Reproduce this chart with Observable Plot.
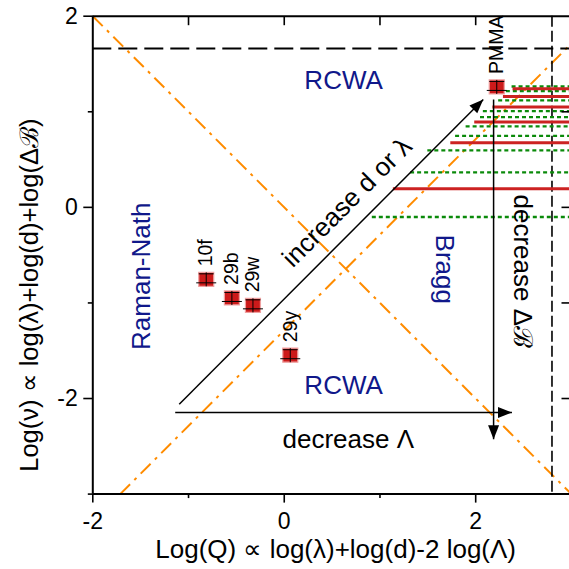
<!DOCTYPE html>
<html><head><meta charset="utf-8">
<script src="https://cdn.jsdelivr.net/npm/d3@7"></script>
<script src="https://cdn.jsdelivr.net/npm/@observablehq/plot@0.6"></script>
<style>body{margin:0;background:#fff} svg{display:block}</style>
</head><body><div id="chart"></div>
<script>
// ---- data ----
const xMin = -2, xMax = 2.98, yMin = -3, yMax = 2;
const xMajorTicks = [-2, 0, 2];
const xTickLabels = ["-2", "0", "2"];
const xMinorTicks = [-1, 1];
const yMajorTicks = [2, 0, -2];
const yTickLabels = ["2", "0", "-2"];
const yMinorTicks = [1, -1, -3];
const topTicks = [-1, 0, 1, 2];
const rightTicks = [1, 0, -1, -2];

const pointNames = ["PMMA", "10f", "29b", "29w", "29y"];
const pointX = [2.22, -0.815, -0.547, -0.327, 0.063];
const pointY = [1.26, -0.753, -0.948, -1.025, -1.547];

const redY      = [1.241, 1.160, 1.051, 0.894, 0.677, 0.196];
const redStartX = [2.39, 2.29, 2.18, 1.99, 1.74, 1.14];
const greenY      = [1.265, 1.216, 1.119, 1.007, 0.944, 0.847, 0.748, 0.596, 0.366, -0.101];
const greenStartX = [2.38, 2.32, 2.24, 2.08, 2.05, 1.90, 1.79, 1.50, 1.32, 0.92];

// regime boundaries (orange dash-dot)
const boundX1 = [-2, -1.714];
const boundY1 = [2, -3];
const boundX2 = [3, 3.286];
const boundY2 = [-3, 2];
const dashedHY = 1.662;
const dashedVX = 2.797;

// arrows
const arrowNames = ["diag", "right", "down"];
const arrowX1 = [-1.097, -1.139, 2.187];
const arrowY1 = [-2.060, -2.146, 1.129];
const arrowX2 = [2.079, 2.379, 2.187];
const arrowY2 = [1.129, -2.146, -2.425];

// region labels
const regionText = ["RCWA", "RCWA", "Raman-Nath", "Bragg"];
const regionX = [0.62, 0.62, -1.487, 1.675];
const regionY = [1.33, -1.866, -0.721, -0.648];
const regionRot = [0, 0, -90, 90];

// annotation labels
const noteText = ["increase d or \u03bb", "decrease \u039b", "decrease \u0394\u212c"];
const noteX = [0.658, 0.669, 2.485];
const noteY = [0.052, -2.433, -0.669];
const noteRot = [-45, 0, 90];

const xTitle = "Log(Q) \u221d log(\u03bb)+log(d)-2 log(\u039b)";
const yTitle = "Log(\u03bd) \u221d log(\u03bb)+log(d)+log(\u0394\u212c)";

// ---- derived tables ----
const points = pointNames.map((n, i) => ({name: n, x: pointX[i], y: pointY[i]}));
const reds = redY.map((y, i) => ({y, x1: redStartX[i]}));
const greens = greenY.map((y, i) => ({y, x1: greenStartX[i]}));
const bounds = boundX1.map((x, i) => ({x1: x, y1: boundY1[i], x2: boundX2[i], y2: boundY2[i]}));
const arrows = arrowNames.map((n, i) => ({name: n, x1: arrowX1[i], y1: arrowY1[i], x2: arrowX2[i], y2: arrowY2[i]}));
const regions = regionText.map((t, i) => ({t, x: regionX[i], y: regionY[i], r: regionRot[i]}));
const notes = noteText.map((t, i) => ({t, x: noteX[i], y: noteY[i], r: noteRot[i]}));

// custom symbols (pixel geometry)
const sqSym = {draw(c) { c.rect(-7.5, -7, 15, 14); }};
const errSym = {draw(c) {
  c.moveTo(-10, 3.5); c.lineTo(10, 3.5);
  c.moveTo(-7.5, -5.5); c.lineTo(7.5, -5.5);
  c.moveTo(0, -7); c.lineTo(0, 7);
}};
const headSyms = {
  right: {draw(c) { c.moveTo(0, 0); c.lineTo(-14, -5.5); c.lineTo(-14, 5.5); c.closePath(); }},
  down: {draw(c) { c.moveTo(0, 0); c.lineTo(-5.5, -14); c.lineTo(5.5, -14); c.closePath(); }},
  diag: {draw(c) { c.moveTo(0, 0); c.lineTo(-6.01, 13.79); c.lineTo(-13.79, 6.01); c.closePath(); }}
};
// inward tick symbols
const tickDown = {draw(c) { c.moveTo(0, 0); c.lineTo(0, 9); }};
const tickLeft = {draw(c) { c.moveTo(0, 0); c.lineTo(-8, 0); }};

const blue = "#10188a";
const font = "Liberation Sans, Arial, sans-serif";

const chart = Plot.plot({
  width: 569,
  height: 569,
  marginLeft: 92.3,
  marginRight: 0,
  marginTop: 15.7,
  marginBottom: 75.4,
  style: {fontFamily: font, background: "white", overflow: "visible"},
  x: {domain: [xMin, xMax], label: null, axis: null},
  y: {domain: [yMin, yMax], label: null, axis: null},
  marks: [
    // boundaries
    Plot.link(bounds, {x1: "x1", y1: "y1", x2: "x2", y2: "y2", stroke: "#ff8c00", strokeWidth: 2, strokeDasharray: "14,6,3,6", clip: true}),
    Plot.ruleY([dashedHY], {stroke: "black", strokeWidth: 2.2, strokeDasharray: "19,7"}),
    Plot.ruleX([dashedVX], {stroke: "black", strokeWidth: 1.6, strokeDasharray: "11,4"}),
    // lines
    Plot.ruleY(greens, {y: "y", x1: "x1", x2: () => xMax, stroke: "#0a8a0a", strokeWidth: 2.4, strokeDasharray: "4,3", clip: true}),
    Plot.ruleY(reds, {y: "y", x1: "x1", x2: () => xMax, stroke: "#cc2222", strokeWidth: 3, clip: true}),
    // arrows
    Plot.link(arrows, {x1: "x1", y1: "y1", x2: "x2", y2: "y2", stroke: "black", strokeWidth: 1.5}),
    ...arrowNames.map((n, i) => Plot.dot([arrows[i]], {x: "x2", y: "y2", symbol: headSyms[n], r: 5, fill: "black", stroke: "none"})),
    // data points
    Plot.dot(points, {x: "x", y: "y", symbol: sqSym, r: 5, fill: "#cc1a1a", stroke: "#f0a0a0", strokeWidth: 1.2}),
    Plot.dot(points, {x: "x", y: "y", symbol: errSym, r: 5, fill: "none", stroke: "black", strokeWidth: 1}),
    Plot.text(points, {x: "x", y: "y", text: "name", rotate: -90, textAnchor: "start", dy: -13, fontSize: 19.5, fill: "black"}),
    // labels
    Plot.text(regions, {x: "x", y: "y", text: "t", rotate: "r", fontSize: 26, fill: blue}),
    Plot.text(notes, {x: "x", y: "y", text: "t", rotate: "r", fontSize: 26, fill: "black"}),
    // frame (left, top, bottom)
    Plot.ruleX([xMin], {stroke: "black", strokeWidth: 2}),
    Plot.ruleY([yMin, yMax], {stroke: "black", strokeWidth: 2}),
    // inward ticks on top and right
    Plot.dot(topTicks, {x: d => d, y: () => yMax, symbol: tickDown, r: 3, fill: "none", stroke: "black", strokeWidth: 1.6}),
    Plot.dot(rightTicks, {x: () => xMax, y: d => d, symbol: tickLeft, r: 3, fill: "none", stroke: "black", strokeWidth: 1.6}),
    // bottom and left axes
    Plot.axisX(xMajorTicks, {tickSize: 9, tickPadding: 10, tickFormat: d => xTickLabels[xMajorTicks.indexOf(d)], fontSize: 23, strokeWidth: 1.6, label: null}),
    Plot.axisX(xMinorTicks, {tickSize: 4.5, tickFormat: () => "", strokeWidth: 1.6, label: null}),
    Plot.axisY(yMajorTicks, {tickSize: 9, tickPadding: 6, tickFormat: d => yTickLabels[yMajorTicks.indexOf(d)], fontSize: 23, strokeWidth: 1.6, label: null}),
    Plot.axisY(yMinorTicks, {tickSize: 4.5, tickFormat: () => "", strokeWidth: 1.6, label: null}),
    // axis titles
    Plot.text([xTitle], {frameAnchor: "bottom", text: d => d, textAnchor: "middle", lineAnchor: "middle", dx: 4.5, dy: 56, fontSize: 26, fill: "black"}),
    Plot.text([yTitle], {frameAnchor: "left", text: d => d, textAnchor: "middle", lineAnchor: "middle", rotate: -90, dx: -63, dy: 40, fontSize: 25.5, fill: "black"})
  ]
});
document.getElementById("chart").append(chart);
</script></body></html>
